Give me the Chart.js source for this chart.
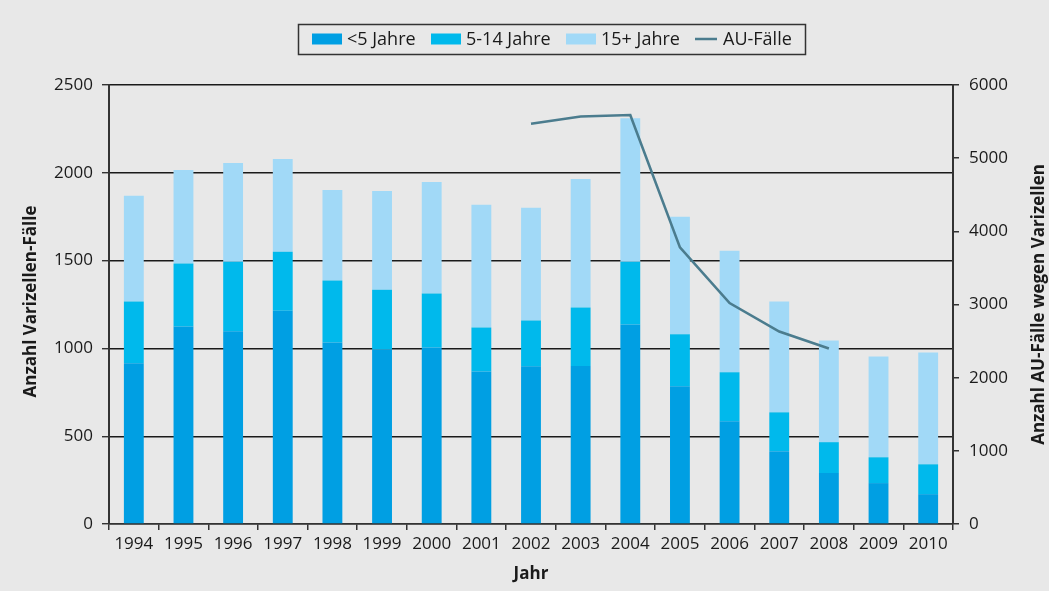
<!DOCTYPE html>
<html>
<head>
<meta charset="utf-8">
<script src="https://cdn.jsdelivr.net/npm/chart.js@4/dist/chart.umd.min.js"></script>
<style>
  html, body { margin: 0; padding: 0; background: #e8e8e8; }
  #wrap { width: 1049px; height: 591px; position: relative; }
</style>
</head>
<body>
<div id="wrap"><canvas id="c" width="1049" height="591"></canvas></div>
<script>
const years = ['1994','1995','1996','1997','1998','1999','2000','2001','2002','2003','2004','2005','2006','2007','2008','2009','2010'];
const under5 = [915,1125,1097,1215,1034,994,1005,869,898,900,1136,784,585,415,290,233,170];
const age5to14 = [352,358,397,335,352,340,307,250,261,333,357,296,279,221,176,147,170];
const age15plus = [602,533,562,528,516,562,636,699,642,732,818,670,692,631,579,574,637];
const auCases = [null,null,null,null,null,null,null,null,5470,5570,5590,3780,3020,2630,2400,null,null];
const leftTicks = [0,500,1000,1500,2000,2500];
const rightTicks = [0,1000,2000,3000,4000,5000,6000];
const seriesNames = ['<5 Jahre','5-14 Jahre','15+ Jahre','AU-Fälle'];
const colors = ['#009fe3','#00b9ec','#a1d9f7','#4b7c8e'];

const FONT = "'Open Sans', 'DejaVu Sans', sans-serif";
const TXT = '#1a1a1a';
Chart.defaults.font.family = FONT;

const bgPlugin = {
  id: 'bg',
  beforeDraw(chart) {
    const ctx = chart.ctx;
    ctx.save();
    ctx.fillStyle = '#e8e8e8';
    ctx.fillRect(0, 0, chart.width, chart.height);
    ctx.restore();
  }
};

const decorPlugin = {
  id: 'decor',
  afterDraw(chart) {
    const ctx = chart.ctx;
    const ca = chart.chartArea;
    ctx.save();
    // Legend box
    ctx.strokeStyle = '#333';
    ctx.lineWidth = 1.5;
    ctx.strokeRect(298.5, 24.5, 507, 30);
    ctx.font = '18px ' + FONT;
    ctx.fillStyle = TXT;
    ctx.textBaseline = 'middle';
    ctx.textAlign = 'left';
    const cy = 39;
    const items = [
      {sx: 312, tx: 347},
      {sx: 431, tx: 466},
      {sx: 566, tx: 601},
      {sx: 695, tx: 723, line: true}
    ];
    items.forEach((it, i) => {
      if (it.line) {
        ctx.strokeStyle = colors[i];
        ctx.lineWidth = 2.5;
        ctx.beginPath();
        ctx.moveTo(it.sx, cy);
        ctx.lineTo(it.sx + 22, cy);
        ctx.stroke();
      } else {
        ctx.fillStyle = colors[i];
        ctx.fillRect(it.sx, cy - 5.5, 30, 11);
      }
      ctx.fillStyle = TXT;
      ctx.fillText(seriesNames[i], it.tx, cy + 1);
    });
    // Axis titles
    ctx.font = 'bold 17px ' + FONT;
    ctx.fillStyle = TXT;
    ctx.textAlign = 'center';
    ctx.textBaseline = 'middle';
    const midY = (ca.top + ca.bottom) / 2;
    ctx.save();
    ctx.translate(31, midY - 3);
    ctx.rotate(-Math.PI / 2);
    ctx.fillText('Anzahl Varizellen-Fälle', 0, 0);
    ctx.restore();
    ctx.save();
    ctx.translate(1039, midY);
    ctx.rotate(-Math.PI / 2);
    ctx.fillText('Anzahl AU-Fälle wegen Varizellen', 0, 0);
    ctx.restore();
    ctx.fillText('Jahr', (ca.left + ca.right) / 2, 574);
    ctx.restore();
  }
};

new Chart(document.getElementById('c'), {
  type: 'bar',
  data: {
    labels: years,
    datasets: [
      { label: seriesNames[0], data: under5, backgroundColor: colors[0], stack: 's', yAxisID: 'y', order: 2 },
      { label: seriesNames[1], data: age5to14, backgroundColor: colors[1], stack: 's', yAxisID: 'y', order: 2 },
      { label: seriesNames[2], data: age15plus, backgroundColor: colors[2], stack: 's', yAxisID: 'y', order: 2 },
      { type: 'line', label: seriesNames[3], data: auCases, borderColor: colors[3], backgroundColor: colors[3],
        borderWidth: 2.6, pointRadius: 0, tension: 0, yAxisID: 'y2', order: 1, spanGaps: false }
    ]
  },
  options: {
    responsive: false,
    animation: false,
    devicePixelRatio: 1,
    layout: { padding: { top: 85, left: 0, right: 0, bottom: 0 } },
    datasets: { bar: { barPercentage: 0.4, categoryPercentage: 1.0 } },
    plugins: {
      legend: { display: false },
      tooltip: { enabled: false }
    },
    scales: {
      x: {
        stacked: true,
        offset: true,
        afterFit(s) { s.height = 67; },
        grid: { display: true, offset: true, drawOnChartArea: false, drawTicks: true, tickLength: 6, color: '#333', lineWidth: 1.5 },
        border: { display: true, color: '#333', width: 1.5 },
        ticks: { font: { size: 17 }, color: TXT, padding: 4, maxRotation: 0, autoSkip: false }
      },
      y: {
        stacked: true,
        position: 'left',
        min: 0, max: 2500,
        afterFit(s) { s.width = 109; },
        afterBuildTicks(s) { s.ticks = leftTicks.map(v => ({ value: v })); },
        grid: { color: '#1a1a1a', lineWidth: 1.4, drawTicks: true, tickLength: 7, tickColor: '#333' },
        border: { display: true, color: '#333', width: 2 },
        ticks: { font: { size: 17 }, color: TXT, padding: 9, callback: v => String(v) }
      },
      y2: {
        position: 'right',
        min: 0, max: 6000,
        afterFit(s) { s.width = 96; },
        afterBuildTicks(s) { s.ticks = rightTicks.map(v => ({ value: v })); },
        grid: { drawOnChartArea: false, drawTicks: true, tickLength: 6, color: '#333', lineWidth: 1.5 },
        border: { display: true, color: '#333', width: 2 },
        ticks: { font: { size: 17 }, color: TXT, padding: 10, callback: v => String(v) }
      }
    }
  },
  plugins: [bgPlugin, decorPlugin]
});
</script>
</body>
</html>
